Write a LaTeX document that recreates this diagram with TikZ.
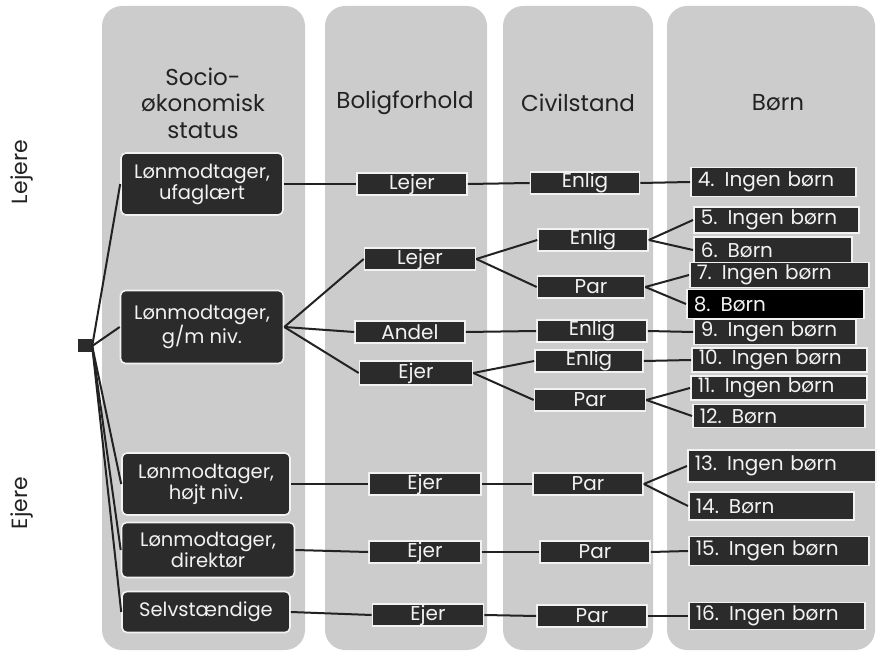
\documentclass[tikz,border=0pt]{standalone}
\usepackage{fontspec}
\setmainfont{Poppins}
\usepackage{xcolor}
\usepackage{tikz}
\definecolor{fondo}{HTML}{CCCCCC}
\definecolor{oscuro}{HTML}{2B2B2B}
\definecolor{borde}{HTML}{F2F2F2}
\definecolor{linea}{HTML}{222222}

\begin{document}
\begin{tikzpicture}[x=1pt,y=1pt,
    columna/.style={fill=fondo,rounded corners=20pt},
    titulo/.style={align=center,text=linea,font=\fontsize{23}{26.5}\selectfont},
    grupo/.style={rotate=90,text=linea,font=\fontsize{22}{24}\selectfont},
    raiz/.style={fill=oscuro,minimum width=14pt,minimum height=13pt,inner sep=0pt},
    nivel/.style={fill=oscuro,draw=borde,line width=1.6pt,rounded corners=5pt,
      text=borde,align=center,inner sep=2pt,font=\fontsize{19.5}{21}\selectfont},
    etiq/.style={fill=oscuro,draw=borde,line width=1.6pt,text=borde,inner sep=0pt,
      minimum height=22pt,font=\fontsize{20}{22}\selectfont},
    hijo/.style 2 args={etiq,anchor=west,align=left,inner xsep=7pt,
      text width=#1,minimum height=#2},
    rama/.style={draw=linea,line width=2pt}]
    \useasboundingbox (0,0) rectangle (877,651);

    % Columnas de fondo
    \fill[columna] (102,1) rectangle (305,645);
    \fill[columna] (325,1) rectangle (487,645);
    \fill[columna] (503,1) rectangle (653,645);
    \fill[columna] (667,1) rectangle (875,645);

    % Títulos de las columnas
    \node[titulo] (tsocio) at (203,548) {Socio-\\økonomisk\\status};
    \node[titulo] (tbolig) at (405,548) {Boligforhold};
    \node[titulo] (tcivil) at (578,548) {Civilstand};
    \node[titulo] (tborn) at (778,548) {Børn};

    % Grupos a la izquierda
    \node[grupo] (lejere) at (22,479) {Lejere};
    \node[grupo] (ejere) at (22,148) {Ejere};

    % Raíz
    \node[raiz] (r) at (85,305) {};

    % Socioøkonomisk status
    \node[nivel,minimum width=162pt,minimum height=62pt] (s1) at (202,467) {Lønmodtager,\\ufaglært};
    \node[nivel,minimum width=163pt,minimum height=73pt] (s2) at (202,324) {Lønmodtager,\\g/m niv.};
    \node[nivel,minimum width=168pt,minimum height=62pt] (s3) at (206,167) {Lønmodtager,\\højt niv.};
    \node[nivel,minimum width=173pt,minimum height=55pt] (s4) at (208,101) {Lønmodtager,\\direktør};
    \node[nivel,minimum width=168pt,minimum height=41pt] (s5) at (206,39) {Selvstændige};

    % Boligforhold
    \node[etiq,minimum width=110pt] (b1) at (412,467) {Lejer};
    \node[etiq,minimum width=111pt] (b2) at (420,392) {Lejer};
    \node[etiq,minimum width=110pt] (b3) at (410,319) {Andel};
    \node[etiq,minimum width=113pt,minimum height=24pt] (b4) at (416,278) {Ejer};
    \node[etiq,minimum width=112pt] (b5) at (425,167) {Ejer};
    \node[etiq,minimum width=112pt] (b6) at (425,99) {Ejer};
    \node[etiq,minimum width=111pt] (b7) at (428,36) {Ejer};

    % Civilstand
    \node[etiq,minimum width=109pt] (c1) at (585,468) {Enlig};
    \node[etiq,minimum width=110pt] (c2) at (593,411) {Enlig};
    \node[etiq,minimum width=107pt] (c3) at (591,364) {Par};
    \node[etiq,minimum width=110pt] (c4) at (592,320) {Enlig};
    \node[etiq,minimum width=108pt] (c5) at (589,290) {Enlig};
    \node[etiq,minimum width=111pt] (c6) at (590,251) {Par};
    \node[etiq,minimum width=110pt] (c7) at (588,167) {Par};
    \node[etiq,minimum width=110pt] (c8) at (595,99) {Par};
    \node[etiq,minimum width=110pt] (c9) at (592,35) {Par};

    % Børn
    \node[hijo={151pt}{29pt}] (n4) at (690,469) {4. Ingen børn};
    \node[hijo={151pt}{26pt}] (n5) at (693,431) {5. Ingen børn};
    \node[hijo={144pt}{26pt}] (n6) at (693,401) {6. Børn};
    \node[hijo={165pt}{25pt}] (n7) at (689,376) {7. Ingen børn};
    \node[hijo={163pt}{29pt},fill=black] (n8) at (686,347) {8. Børn};
    \node[hijo={148pt}{25pt}] (n9) at (693,319) {9. Ingen børn};
    \node[hijo={161pt}{24pt}] (n10) at (691,291) {10. Ingen børn};
    \node[hijo={162pt}{24pt}] (n11) at (690,263) {11. Ingen børn};
    \node[hijo={158pt}{23pt}] (n12) at (692,235) {12. Børn};
    \node[hijo={174pt}{32pt}] (n13) at (687,185) {13. Ingen børn};
    \node[hijo={151pt}{28pt}] (n14) at (688,145) {14. Børn};
    \node[hijo={166pt}{29pt}] (n15) at (688,100) {15. Ingen børn};
    \node[hijo={162pt}{27pt}] (n16) at (688,35) {16. Ingen børn};

    % Ramas
    \foreach \h in {s1,s2,s3,s4,s5} \draw[rama] (r.east) -- (\h.west);
    \draw[rama] (s1.east) -- (b1.west);
    \foreach \h in {b2,b3,b4} \draw[rama] (s2.east) -- (\h.west);
    \draw[rama] (s3.east) -- (b5.west);
    \draw[rama] (s4.east) -- (b6.west);
    \draw[rama] (s5.east) -- (b7.west);
    \draw[rama] (b1.east) -- (c1.west);
    \draw[rama] (b2.east) -- (c2.west);
    \draw[rama] (b2.east) -- (c3.west);
    \draw[rama] (b3.east) -- (c4.west);
    \draw[rama] (b4.east) -- (c5.west);
    \draw[rama] (b4.east) -- (c6.west);
    \draw[rama] (b5.east) -- (c7.west);
    \draw[rama] (b6.east) -- (c8.west);
    \draw[rama] (b7.east) -- (c9.west);
    \draw[rama] (c1.east) -- (n4.west);
    \draw[rama] (c2.east) -- (n5.west);
    \draw[rama] (c2.east) -- (n6.west);
    \draw[rama] (c3.east) -- (n7.west);
    \draw[rama] (c3.east) -- (n8.west);
    \draw[rama] (c4.east) -- (n9.west);
    \draw[rama] (c5.east) -- (n10.west);
    \draw[rama] (c6.east) -- (n11.west);
    \draw[rama] (c6.east) -- (n12.west);
    \draw[rama] (c7.east) -- (n13.west);
    \draw[rama] (c7.east) -- (n14.west);
    \draw[rama] (c8.east) -- (n15.west);
    \draw[rama] (c9.east) -- (n16.west);
\end{tikzpicture}
\end{document}
